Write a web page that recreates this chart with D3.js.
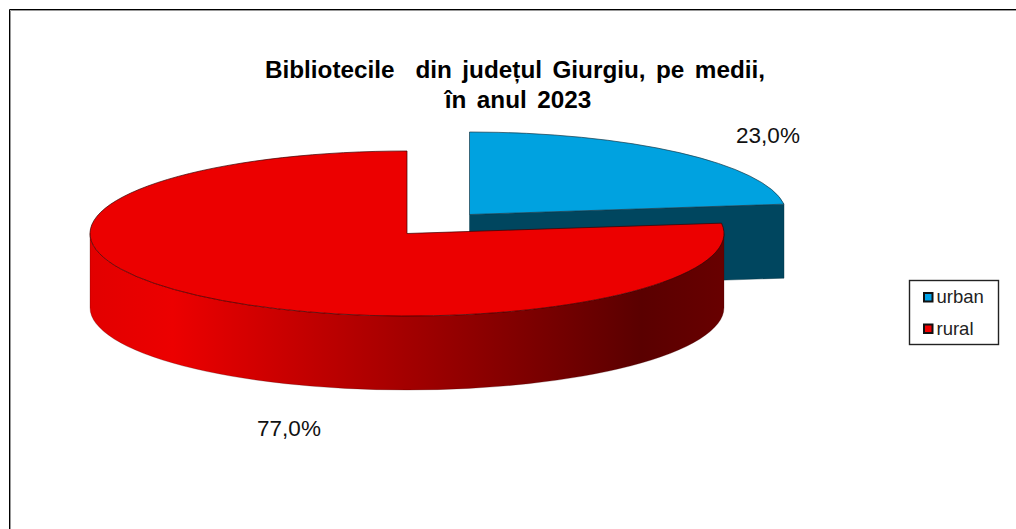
<!DOCTYPE html>
<html lang="ro">
<head>
<meta charset="UTF-8">
<title>Bibliotecile din județul Giurgiu</title>
<script src="https://d3js.org/d3.v7.min.js"></script>
<style>
    html, body { margin: 0; padding: 0; background: #fff; }
    svg { display: block; font-family: "Liberation Sans", Arial, sans-serif; }
</style>
</head>
<body>
<div id="chart"></div>
<script>
const categories = ["urban", "rural"];
const values = [23.0, 77.0];
const valueLabels = ["23,0%", "77,0%"];
const titleLines = ["Bibliotecile  din județul Giurgiu, pe medii,", "în anul 2023"];

const width = 1016, height = 529;
const rx = 317, ry = 82.5, depth = 74;
// pie centres: the urban slice is pulled out
const centers = { urban: [469.5, 214.5], rural: [407, 233.5] };
const topColor = { urban: "#00a2e0", rural: "#ec0000" };

const svg = d3.select("#chart").append("svg")
    .attr("width", width)
    .attr("height", height);

// frame: only left and top edges are in the picture
svg.append("path")
    .attr("d", "M10.5,529V10.5H1016")
    .attr("fill", "none")
    .attr("stroke", "#999")
    .attr("stroke-width", 1);
svg.append("path")
    .attr("d", "M9.5,529V9.5H1016")
    .attr("fill", "none")
    .attr("stroke", "#000")
    .attr("stroke-width", 1);

const defs = svg.append("defs");
const grad = defs.append("linearGradient")
    .attr("id", "redWall")
    .attr("x1", 0).attr("x2", 1).attr("y1", 0).attr("y2", 0);
[[0, "#e20000"], [0.13, "#ec0000"], [0.87, "#5a0000"], [1, "#680000"]].forEach(s => {
    grad.append("stop").attr("offset", s[0]).attr("stop-color", s[1]);
});

const pie = d3.pie().sort(null).value(d => d);
const arcs = pie(values);

function pt(c, a) {
    return [c[0] + rx * Math.sin(a), c[1] - ry * Math.cos(a)];
}

function topPath(c, a0, a1) {
    const p0 = pt(c, a0), p1 = pt(c, a1);
    const large = a1 - a0 > Math.PI ? 1 : 0;
    return `M${c}L${p0}A${rx},${ry} 0 ${large} 1 ${p1}Z`;
}

const urban = arcs[0], rural = arcs[1];
const cu = centers.urban, cr = centers.rural;

// urban: cut face
const ue = pt(cu, urban.endAngle);
svg.append("path")
    .attr("d", `M${cu}L${ue}L${ue[0]},${ue[1] + depth}L${cu[0]},${cu[1] + depth}Z`)
    .attr("fill", "#00465f")
    .attr("stroke", "#00303f")
    .attr("stroke-width", 0.4);

svg.append("path")
    .attr("d", topPath(cu, urban.startAngle, urban.endAngle))
    .attr("fill", topColor.urban)
    .attr("stroke", "#1a3a48")
    .attr("stroke-width", 0.7);

// rural: outer wall, front half of the ellipse only
const wr = pt(cr, Math.PI / 2), wl = pt(cr, Math.PI * 1.5);
svg.append("path")
    .attr("d", `M${wr}A${rx},${ry} 0 0 1 ${wl}L${wl[0]},${wl[1] + depth}A${rx},${ry} 0 0 0 ${wr[0]},${wr[1] + depth}Z`)
    .attr("fill", "url(#redWall)")
    .attr("stroke", "#3a0000")
    .attr("stroke-width", 0.25);

svg.append("path")
    .attr("d", topPath(cr, rural.startAngle, rural.endAngle))
    .attr("fill", topColor.rural)
    .attr("stroke", "#3a0000")
    .attr("stroke-width", 0.7);

// title
svg.append("text")
    .attr("y", 77.5)
    .attr("text-anchor", "middle")
    .attr("font-size", 24.3)
    .attr("font-weight", "bold")
    .attr("fill", "#000")
    .attr("word-spacing", 3.7)
    .style("white-space", "pre")
    .selectAll("tspan")
    .data(titleLines)
    .join("tspan")
    .attr("x", (d, i) => i ? 518 : 515)
    .attr("dy", (d, i) => i ? 30 : 0)
    .text(d => d);

// value labels
svg.selectAll(".val")
    .data(valueLabels)
    .join("text")
    .attr("class", "val")
    .attr("x", (d, i) => i ? 289 : 768)
    .attr("y", (d, i) => i ? 436 : 143)
    .attr("text-anchor", "middle")
    .attr("font-size", 22.5)
    .attr("fill", "#111")
    .text(d => d);

// legend
const legend = svg.append("g").attr("transform", "translate(909,280)");
legend.append("rect")
    .attr("x", 0.5).attr("y", 0.5)
    .attr("width", 89).attr("height", 64)
    .attr("fill", "#fff")
    .attr("stroke", "#222")
    .attr("stroke-width", 1.4);

const items = legend.selectAll(".item")
    .data(categories)
    .join("g")
    .attr("class", "item")
    .attr("transform", (d, i) => `translate(0,${i ? 48.5 : 17})`);

items.append("rect")
    .attr("x", 15).attr("y", -4)
    .attr("width", 8.5).attr("height", 8.5)
    .attr("fill", d => d === "urban" ? "#00a2e8" : "#f00000")
    .attr("stroke", "#111")
    .attr("stroke-width", 2);

items.append("text")
    .attr("x", 27.5)
    .attr("y", 6)
    .attr("font-size", 18.5)
    .attr("fill", "#222")
    .text(d => d);
</script>
</body>
</html>
